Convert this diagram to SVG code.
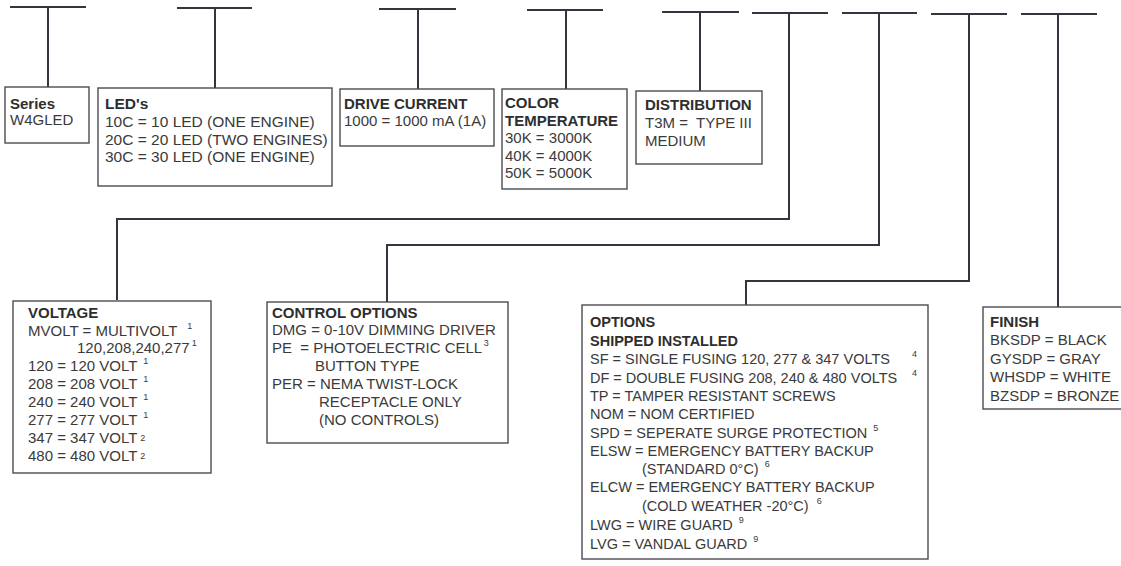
<svg xmlns="http://www.w3.org/2000/svg" width="1121" height="566" viewBox="0 0 1121 566">
<style>
text{font-family:"Liberation Sans",Arial,sans-serif;font-size:15px;fill:#3a3a3a}
.b{font-weight:bold;fill:#2e2e2e}
.s{font-size:9px}
.box{fill:none;stroke:#4a4a52;stroke-width:1.4}
.c{fill:none;stroke:#36343f;stroke-width:2}
.o text{font-size:14.5px}
.o .s{font-size:9px}
.l text{font-size:15.5px}
</style>
<rect width="1121" height="566" fill="#ffffff"/>
<g id="connectors" class="c">
<path d="M10 7H86M48 7V87"/>
<path d="M177 8H252M215 8V88"/>
<path d="M379 9H456M418 9V89"/>
<path d="M527 10H603M566 10V89"/>
<path d="M662 12H739M700 12V91"/>
<path d="M752 13H828M789 13V219H117V300"/>
<path d="M842 13H917M879 13V245H387V302"/>
<path d="M931 14H1007M969 14V281H746V305"/>
<path d="M1021 14H1097M1058 14V307"/>
</g>
<g id="series">
<rect class="box" x="5" y="87" width="84" height="56"/>
<text class="b" x="10" y="109">Series</text>
<text x="10" y="125">W4GLED</text>
</g>
<g id="leds" class="l">
<rect class="box" x="98" y="88" width="234" height="98"/>
<text class="b" x="105" y="109">LED's</text>
<text x="105" y="127">10C = 10 LED (ONE ENGINE)</text>
<text x="105" y="145">20C = 20 LED (TWO ENGINES)</text>
<text x="105" y="162">30C = 30 LED (ONE ENGINE)</text>
</g>
<g id="drive">
<rect class="box" x="340" y="89" width="154" height="57"/>
<text class="b" x="344" y="109">DRIVE CURRENT</text>
<text x="344" y="126">1000 = 1000 mA (1A)</text>
</g>
<g id="color">
<rect class="box" x="502" y="89" width="125" height="100"/>
<text class="b" x="505" y="108">COLOR</text>
<text class="b" x="505" y="126">TEMPERATURE</text>
<text x="505" y="143">30K = 3000K</text>
<text x="505" y="161">40K = 4000K</text>
<text x="505" y="178">50K = 5000K</text>
</g>
<g id="distribution">
<rect class="box" x="636" y="91" width="126" height="73"/>
<text class="b" x="645" y="110">DISTRIBUTION</text>
<text x="645" y="128" xml:space="preserve">T3M =  TYPE III</text>
<text x="645" y="146">MEDIUM</text>
</g>
<g id="voltage">
<rect class="box" x="13" y="301" width="198" height="172"/>
<text class="b" x="28" y="318">VOLTAGE</text>
<text x="28" y="336">MVOLT = MULTIVOLT <tspan class="s" dx="6" dy="-7">1</tspan></text>
<text x="77" y="353">120,208,240,277 <tspan class="s" dx="-2" dy="-7">1</tspan></text>
<text x="28" y="371">120 = 120 VOLT <tspan class="s" dx="2" dy="-7">1</tspan></text>
<text x="28" y="389">208 = 208 VOLT <tspan class="s" dx="2" dy="-7">1</tspan></text>
<text x="28" y="407">240 = 240 VOLT <tspan class="s" dx="2" dy="-7">1</tspan></text>
<text x="28" y="425">277 = 277 VOLT <tspan class="s" dx="2" dy="-7">1</tspan></text>
<text x="28" y="443">347 = 347 VOLT <tspan class="s" dx="-1" dy="-2">2</tspan></text>
<text x="28" y="461">480 = 480 VOLT <tspan class="s" dx="-1" dy="-2">2</tspan></text>
</g>
<g id="control">
<rect class="box" x="267" y="302" width="241" height="141"/>
<text class="b" x="272" y="318">CONTROL OPTIONS</text>
<text x="272" y="335">DMG = 0-10V DIMMING DRIVER</text>
<text x="272" y="353" xml:space="preserve">PE  = PHOTOELECTRIC CELL <tspan class="s" dx="-2" dy="-7">3</tspan></text>
<text x="315" y="371">BUTTON TYPE</text>
<text x="272" y="389">PER = NEMA TWIST-LOCK</text>
<text x="319" y="407">RECEPTACLE ONLY</text>
<text x="319" y="425">(NO CONTROLS)</text>
</g>
<g id="options" class="o">
<rect class="box" x="582" y="305" width="346" height="254"/>
<text class="b" x="590" y="327">OPTIONS</text>
<text class="b" x="590" y="346">SHIPPED INSTALLED</text>
<text x="590" y="364">SF = SINGLE FUSING 120, 277 &amp; 347 VOLTS</text>
<text class="s" x="912" y="357">4</text>
<text x="590" y="383">DF = DOUBLE FUSING 208, 240 &amp; 480  VOLTS</text>
<text class="s" x="912" y="376">4</text>
<text x="590" y="401">TP = TAMPER RESISTANT SCREWS</text>
<text x="590" y="419">NOM = NOM CERTIFIED</text>
<text x="590" y="438">SPD = SEPERATE SURGE PROTECTION <tspan class="s" dx="2" dy="-7">5</tspan></text>
<text x="590" y="456">ELSW = EMERGENCY BATTERY BACKUP</text>
<text x="642" y="474">(STANDARD 0°C) <tspan class="s" dx="2" dy="-7">6</tspan></text>
<text x="590" y="492">ELCW = EMERGENCY BATTERY BACKUP</text>
<text x="642" y="511">(COLD WEATHER -20°C) <tspan class="s" dx="4" dy="-7">6</tspan></text>
<text x="590" y="530">LWG = WIRE GUARD <tspan class="s" dx="2" dy="-7">9</tspan></text>
<text x="590" y="549">LVG = VANDAL GUARD <tspan class="s" dx="2" dy="-7">9</tspan></text>
</g>
<g id="finish">
<rect class="box" x="983" y="307" width="160" height="102"/>
<text class="b" x="990" y="327">FINISH</text>
<text x="990" y="345">BKSDP = BLACK</text>
<text x="990" y="364">GYSDP = GRAY</text>
<text x="990" y="382">WHSDP = WHITE</text>
<text x="990" y="401">BZSDP = BRONZE</text>
</g>
</svg>
